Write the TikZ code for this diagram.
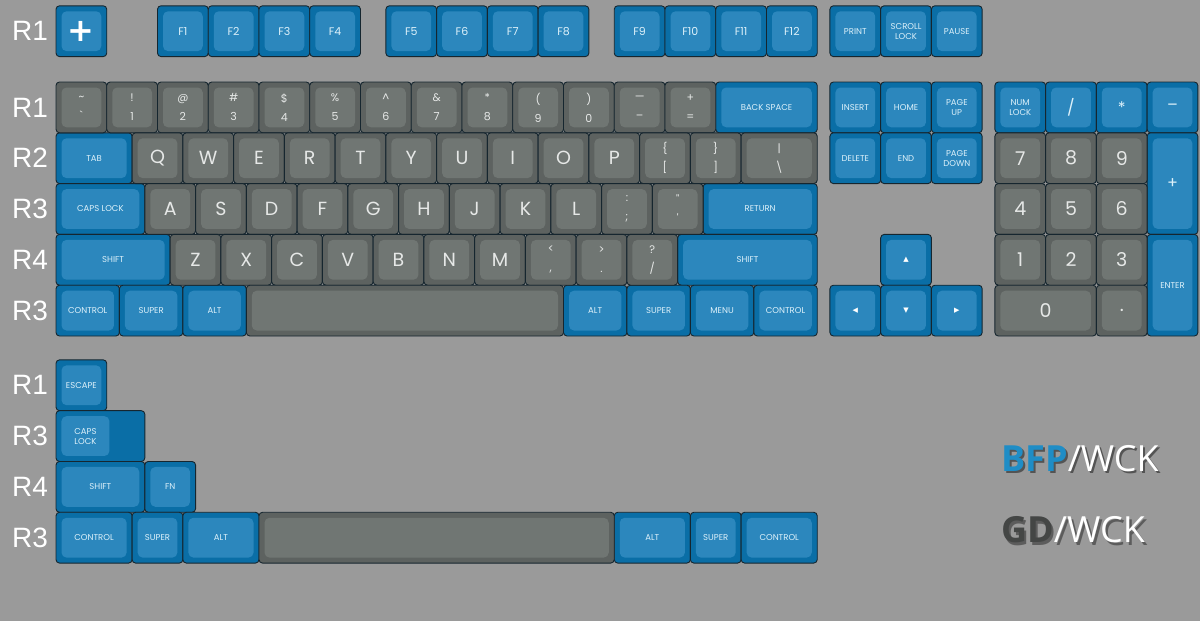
\documentclass[tikz,border=0pt]{standalone}
\usepackage{fontspec}
\setmainfont{Liberation Sans}
\newfontfamily\capfont{Poppins}
\newfontfamily\glyphfont{DejaVu Sans}
\newfontfamily\brandfont{Open Sans}
\definecolor{board}{HTML}{9A9A9A}
\definecolor{rim}{HTML}{16262F}
\definecolor{capblue}{HTML}{0A6EA6}
\definecolor{dishblue}{HTML}{2C87BD}
\definecolor{capgrey}{HTML}{5D6260}
\definecolor{dishgrey}{HTML}{707673}
\definecolor{legblue}{HTML}{DDF1FA}
\definecolor{leggrey}{HTML}{E6E8E7}
\definecolor{bfpblue}{HTML}{1F8DC6}
\definecolor{gdgrey}{HTML}{444645}
\tikzset{keyblue/.style={fill=capblue,draw=rim,line width=.9pt,rounded corners=3.5pt},
keygrey/.style={fill=capgrey,draw=rim,line width=.9pt,rounded corners=3.5pt},
topblue/.style={fill=dishblue,rounded corners=5pt,text=legblue,inner sep=0pt},
topgrey/.style={fill=dishgrey,rounded corners=5pt,text=leggrey,inner sep=0pt},
modlbl/.style={font=\capfont\fontsize{8.5}{10}\selectfont,align=center},
fnlbl/.style={font=\capfont\fontsize{11}{12}\selectfont},
padlbl/.style={font=\capfont\fontsize{16}{18}\selectfont},
biglbl/.style={font=\capfont\fontsize{19}{20}\selectfont},
duolbl/.style={font=\capfont\fontsize{11}{19}\selectfont,align=center},
arrlbl/.style={font=\glyphfont\fontsize{7}{8}\selectfont,text=white},
pluslbl/.style={font=\glyphfont\bfseries\fontsize{32}{32}\selectfont,text=white},
rowlbl/.style={font=\fontsize{28}{30}\selectfont,text=white},
brandtxt/.style={font=\brandfont\fontsize{36}{40}\selectfont,text=white,anchor=west,inner sep=0pt}}

\begin{document}
\begin{tikzpicture}
\fill[board] (0pt,0pt) rectangle (1200pt,-621pt);
\begin{scope}[shift={(56pt,-82pt)},x=50.75pt,y=-50.8pt]
% row markers
\foreach \ky/\kt [count=\i] in {-1.5/R1,0/R1,1/R2,2/R3,3/R4,4/R3,5.47/R1,6.47/R3,7.47/R4,8.47/R3}
  \node[rowlbl] (rowlab\i) at (-.51,\ky+.5) {\kt};
% blue caps
\foreach \kx/\ky/\kw/\kh/\ks/\kt [count=\i] in {
  0/-1.5/1/1/pluslbl/+,
  2/-1.5/1/1/fnlbl/F1, 3/-1.5/1/1/fnlbl/F2, 4/-1.5/1/1/fnlbl/F3, 5/-1.5/1/1/fnlbl/F4,
  6.5/-1.5/1/1/fnlbl/F5, 7.5/-1.5/1/1/fnlbl/F6, 8.5/-1.5/1/1/fnlbl/F7, 9.5/-1.5/1/1/fnlbl/F8,
  11/-1.5/1/1/fnlbl/F9, 12/-1.5/1/1/fnlbl/F10, 13/-1.5/1/1/fnlbl/F11, 14/-1.5/1/1/fnlbl/F12,
  15.25/-1.5/1/1/modlbl/PRINT, 16.25/-1.5/1/1/modlbl/{SCROLL\\LOCK}, 17.25/-1.5/1/1/modlbl/PAUSE,
  13/0/2/1/modlbl/BACK SPACE,
  15.25/0/1/1/modlbl/INSERT, 16.25/0/1/1/modlbl/HOME, 17.25/0/1/1/modlbl/{PAGE\\UP},
  18.5/0/1/1/modlbl/{NUM\\LOCK}, 19.5/0/1/1/padlbl/\slash, 20.5/0/1/1/padlbl/*, 21.5/0/1/1/padlbl/\textendash,
  0/1/1.5/1/modlbl/TAB,
  15.25/1/1/1/modlbl/DELETE, 16.25/1/1/1/modlbl/END, 17.25/1/1/1/modlbl/{PAGE\\DOWN},
  21.5/1/1/2/padlbl/+,
  0/2/1.75/1/modlbl/CAPS LOCK, 12.75/2/2.25/1/modlbl/RETURN,
  0/3/2.25/1/modlbl/SHIFT, 12.25/3/2.75/1/modlbl/SHIFT,
  16.25/3/1/1/arrlbl/▲, 21.5/3/1/2/modlbl/ENTER,
  0/4/1.25/1/modlbl/CONTROL, 1.25/4/1.25/1/modlbl/SUPER, 2.5/4/1.25/1/modlbl/ALT,
  10/4/1.25/1/modlbl/ALT, 11.25/4/1.25/1/modlbl/SUPER, 12.5/4/1.25/1/modlbl/MENU, 13.75/4/1.25/1/modlbl/CONTROL,
  15.25/4/1/1/arrlbl/◀, 16.25/4/1/1/arrlbl/▼, 17.25/4/1/1/arrlbl/▶,
  0/5.47/1/1/modlbl/ESCAPE,
  0/7.47/1.75/1/modlbl/SHIFT, 1.75/7.47/1/1/modlbl/FN,
  0/8.47/1.5/1/modlbl/CONTROL, 1.5/8.47/1/1/modlbl/SUPER, 2.5/8.47/1.5/1/modlbl/ALT,
  11/8.47/1.5/1/modlbl/ALT, 12.5/8.47/1/1/modlbl/SUPER, 13.5/8.47/1.5/1/modlbl/CONTROL}{
  \filldraw[keyblue] (\kx,\ky) rectangle ++(\kw,\kh);
  \node[topblue,\ks,minimum width=\kw*50.75pt-11pt,minimum height=\kh*50.8pt-11pt]
    (blue\i) at (\kx+\kw/2,\ky+\kh/2) {\kt};
}
% stepped caps lock
\filldraw[keyblue] (0,6.47) rectangle ++(1.75,1);
\node[topblue,modlbl,minimum width=48pt,minimum height=39.8pt] (capsstep) at (.58,6.97) {CAPS\\LOCK};
% grey caps
\foreach \kx/\ky/\kw/\kh/\ks/\kt [count=\i] in {
  0/0/1/1/duolbl/{\textasciitilde\\\textasciigrave}, 1/0/1/1/duolbl/{!\\1}, 2/0/1/1/duolbl/{@\\2},
  3/0/1/1/duolbl/{\#\\3}, 4/0/1/1/duolbl/{\$\\4}, 5/0/1/1/duolbl/{\%\\5},
  6/0/1/1/duolbl/{\textasciicircum\\6}, 7/0/1/1/duolbl/{\&\\7}, 8/0/1/1/duolbl/{*\\8},
  9/0/1/1/duolbl/{(\\9}, 10/0/1/1/duolbl/{)\\0}, 11/0/1/1/duolbl/{\textemdash\\\textendash},
  12/0/1/1/duolbl/{+\\=},
  1.5/1/1/1/biglbl/Q, 2.5/1/1/1/biglbl/W, 3.5/1/1/1/biglbl/E, 4.5/1/1/1/biglbl/R, 5.5/1/1/1/biglbl/T,
  6.5/1/1/1/biglbl/Y, 7.5/1/1/1/biglbl/U, 8.5/1/1/1/biglbl/I, 9.5/1/1/1/biglbl/O, 10.5/1/1/1/biglbl/P,
  11.5/1/1/1/duolbl/{\{\\{[}}, 12.5/1/1/1/duolbl/{\}\\]}, 13.5/1/1.5/1/duolbl/{\textbar\\\textbackslash},
  1.75/2/1/1/biglbl/A, 2.75/2/1/1/biglbl/S, 3.75/2/1/1/biglbl/D, 4.75/2/1/1/biglbl/F, 5.75/2/1/1/biglbl/G,
  6.75/2/1/1/biglbl/H, 7.75/2/1/1/biglbl/J, 8.75/2/1/1/biglbl/K, 9.75/2/1/1/biglbl/L,
  10.75/2/1/1/duolbl/{:\\;}, 11.75/2/1/1/duolbl/{\textquotedbl\\\textquotesingle},
  2.25/3/1/1/biglbl/Z, 3.25/3/1/1/biglbl/X, 4.25/3/1/1/biglbl/C, 5.25/3/1/1/biglbl/V, 6.25/3/1/1/biglbl/B,
  7.25/3/1/1/biglbl/N, 8.25/3/1/1/biglbl/M,
  9.25/3/1/1/duolbl/{<\\,}, 10.25/3/1/1/duolbl/{>\\.}, 11.25/3/1/1/duolbl/{?\\\slash},
  3.75/4/6.25/1/biglbl/{},
  18.5/1/1/1/biglbl/7, 19.5/1/1/1/biglbl/8, 20.5/1/1/1/biglbl/9,
  18.5/2/1/1/biglbl/4, 19.5/2/1/1/biglbl/5, 20.5/2/1/1/biglbl/6,
  18.5/3/1/1/biglbl/1, 19.5/3/1/1/biglbl/2, 20.5/3/1/1/biglbl/3,
  18.5/4/2/1/biglbl/0, 20.5/4/1/1/biglbl/.,
  4/8.47/7/1/biglbl/{}}{
  \filldraw[keygrey] (\kx,\ky) rectangle ++(\kw,\kh);
  \node[topgrey,\ks,minimum width=\kw*50.75pt-11pt,minimum height=\kh*50.8pt-11pt]
    (grey\i) at (\kx+\kw/2,\ky+\kh/2) {\kt};
}
\end{scope}
% set names
\node[brandtxt,text=black,opacity=.45] (bfpshade) at (1003pt,-461pt) {{\bfseries BFP}/WCK};
\node[brandtxt] (bfp) at (1001pt,-459pt) {{\color{bfpblue}\bfseries BFP}/WCK};
\node[brandtxt,text=black,opacity=.4] (gdshade) at (1003.5pt,-532.5pt) {{\bfseries GD}/WCK};
\node[brandtxt] (gd) at (1001pt,-530pt) {{\color{gdgrey}\bfseries GD}/WCK};
\end{tikzpicture}
\end{document}
